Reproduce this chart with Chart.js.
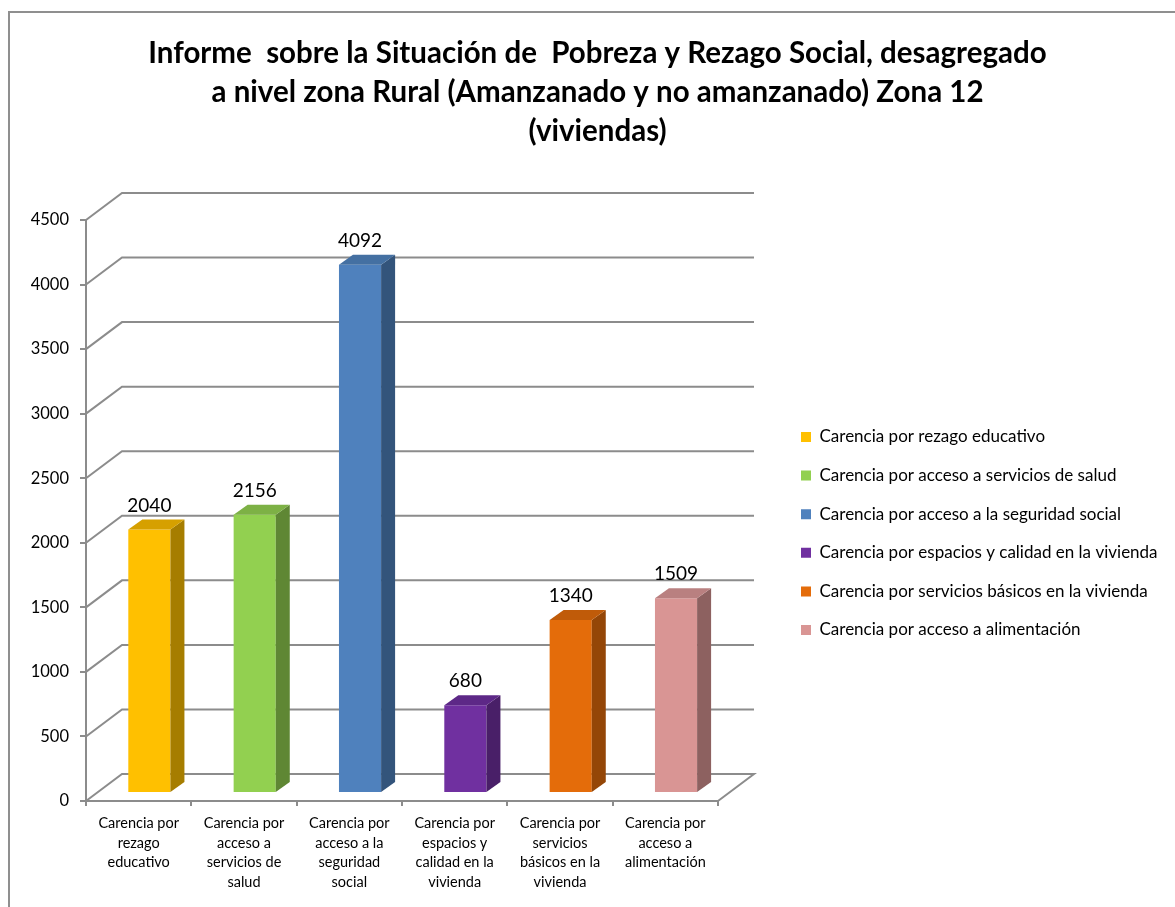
<!DOCTYPE html>
<html>
<head>
<meta charset="utf-8">
<script src="https://cdn.jsdelivr.net/npm/chart.js@4.4.1/dist/chart.umd.min.js"></script>
<style>
html,body{margin:0;padding:0;background:#fff;}
#wrap{width:1175px;height:907px;}
</style>
</head>
<body>
<div id="wrap"><canvas id="c" width="1175" height="907"></canvas></div>
<script>
// ---------- data ----------
const titleLines = [
  'Informe  sobre la Situación de  Pobreza y Rezago Social, desagregado',
  'a nivel zona Rural (Amanzanado y no amanzanado) Zona 12',
  '(viviendas)'
];
const categories = [
  'Carencia por rezago educativo',
  'Carencia por acceso a servicios de salud',
  'Carencia por acceso a la seguridad social',
  'Carencia por espacios y calidad en la vivienda',
  'Carencia por servicios básicos en la vivienda',
  'Carencia por acceso a alimentación'
];
const tickLabels = [
  ['Carencia por', 'rezago', 'educativo'],
  ['Carencia por', 'acceso a', 'servicios de', 'salud'],
  ['Carencia por', 'acceso a la', 'seguridad', 'social'],
  ['Carencia por', 'espacios y', 'calidad en la', 'vivienda'],
  ['Carencia por', 'servicios', 'básicos en la', 'vivienda'],
  ['Carencia por', 'acceso a', 'alimentación']
];
const values = [2040, 2156, 4092, 680, 1340, 1509];
const yMin = 0, yMax = 4500, yStep = 500;

// ---------- styles ----------
const frontColors = ['#FFC000', '#92D050', '#4F81BD', '#7030A0', '#E46C0A', '#D99594'];
const sideColors  = ['#A67D00', '#5F8734', '#33547B', '#491F68', '#944607', '#8D6160'];
const topColors   = ['#D6A000', '#7DB145', '#4470A2', '#5D2887', '#C05B09', '#B98080'];
const GRID = '#8c8c8c';
const FONT = 'Lato';
const WALL = {dx: 36, dy: 27};
const BAR = {ox: 10.7, oy: -8, dx: 14, dy: 10};
const LEG_FONT = 17, LEG_PAD = 38.6 - 17;
const PLOT_LEFT = 86, PLOT_RIGHT = 718;

const mc = document.createElement('canvas').getContext('2d');
mc.font = LEG_FONT + 'px ' + FONT;
const legendTextW = Math.max(...categories.map(c => mc.measureText(c).width));
const legendW = LEG_PAD + 10 + LEG_FONT / 2 + legendTextW + 10;
const spacerW = Math.max(0, 1175 - PLOT_RIGHT - legendW);

const threeD = {
  id: 'threeD',
  beforeDraw(chart) {
    const ctx = chart.ctx;
    ctx.save();
    ctx.fillStyle = '#fff';
    ctx.fillRect(0, 0, chart.width, chart.height);
    ctx.strokeStyle = '#8f8f8f';
    ctx.lineWidth = 2;
    ctx.strokeRect(9, 12, chart.width + 40, chart.height + 40);
    ctx.restore();
  },
  afterLayout(chart) {
    const t = chart.titleBlock;
    if (t) { const d = 597.5 - (t.left + t.right) / 2; t.left += d; t.right += d; }
    const L = chart.legend;
    if (L && L.columnSizes && L.columnSizes.length) {
      const dx = (801 - LEG_PAD) - L.left; L.left += dx; L.right += dx;
      const colH = L.columnSizes[0].height;
      const cur = (L.top + LEG_PAD + L.bottom - colH) / 2;
      const dy = (437 - LEG_FONT / 2) - cur; L.top += dy; L.bottom += dy;
    }
  },
  beforeDatasetsDraw(chart) {
    const ctx = chart.ctx, ys = chart.scales.y, a = chart.chartArea;
    ctx.save();
    ctx.strokeStyle = GRID; ctx.lineWidth = 2; ctx.lineJoin = 'miter';
    ys.ticks.forEach(t => {
      const y = ys.getPixelForValue(t.value);
      ctx.beginPath();
      ctx.moveTo(a.left, y);
      ctx.lineTo(a.left + WALL.dx, y - WALL.dy);
      ctx.lineTo(a.right + WALL.dx, y - WALL.dy);
      if (t.value === yMin) ctx.lineTo(a.right, y);
      ctx.stroke();
    });
    ctx.restore();
    ctx.save();
    ctx.translate(BAR.ox, BAR.oy);
  },
  afterDatasetsDraw(chart) {
    const ctx = chart.ctx;
    ctx.restore();
    const meta = chart.getDatasetMeta(0);
    ctx.save();
    meta.data.forEach((el, i) => {
      const p = el.getProps(['x', 'y', 'base', 'width'], true);
      const l = p.x - p.width / 2 + BAR.ox, r = p.x + p.width / 2 + BAR.ox;
      const top = Math.min(p.y, p.base) + BAR.oy, bot = Math.max(p.y, p.base) + BAR.oy;
      ctx.fillStyle = sideColors[i];
      ctx.beginPath();
      ctx.moveTo(r, top); ctx.lineTo(r + BAR.dx, top - BAR.dy);
      ctx.lineTo(r + BAR.dx, bot - BAR.dy); ctx.lineTo(r, bot);
      ctx.closePath(); ctx.fill();
      ctx.fillStyle = topColors[i];
      ctx.beginPath();
      ctx.moveTo(l, top); ctx.lineTo(l + BAR.dx, top - BAR.dy);
      ctx.lineTo(r + BAR.dx, top - BAR.dy); ctx.lineTo(r, top);
      ctx.closePath(); ctx.fill();
      ctx.fillStyle = '#000';
      ctx.font = '19px ' + FONT;
      ctx.textAlign = 'center';
      ctx.textBaseline = 'alphabetic';
      ctx.fillText(String(values[i]), (l + r) / 2, top - BAR.dy - 8);
    });
    ctx.restore();
  }
};

new Chart(document.getElementById('c'), {
  type: 'bar',
  data: {
    labels: tickLabels,
    datasets: [{
      label: 'Viviendas',
      data: values,
      backgroundColor: frontColors,
      borderWidth: 0,
      barPercentage: 0.4,
      categoryPercentage: 1.0,
      clip: false
    }]
  },
  options: {
    responsive: false,
    animation: false,
    devicePixelRatio: 1,
    layout: {padding: {left: 0, right: 0, top: 0, bottom: 0}},
    plugins: {
      tooltip: {enabled: false},
      title: {
        display: true,
        text: titleLines,
        color: '#000',
        font: {family: FONT, size: 29.5, weight: 'bold', lineHeight: 39 / 29.5},
        padding: {top: 33.5, bottom: 69.5}
      },
      legend: {
        display: true,
        position: 'right',
        fullSize: false,
        maxWidth: 600,
        onClick: null,
        labels: {
          boxWidth: 10, boxHeight: 10,
          padding: LEG_PAD,
          color: '#000',
          font: {family: FONT, size: LEG_FONT},
          generateLabels: () => categories.map((c, i) => ({
            text: c, fillStyle: frontColors[i], strokeStyle: frontColors[i],
            lineWidth: 0, hidden: false, index: i
          }))
        }
      }
    },
    scales: {
      x: {
        type: 'category',
        offset: true,
        grid: {display: true, drawOnChartArea: false, drawTicks: true, tickLength: 5, color: GRID, lineWidth: 2, offset: true},
        border: {display: true, color: GRID, width: 2},
        ticks: {color: '#000', font: {family: FONT, size: 14.5, lineHeight: 19.5 / 14.5}, padding: 8, maxRotation: 0, autoSkip: false},
        afterFit: s => { s.height = 106; }
      },
      y: {
        min: yMin, max: yMax,
        grid: {display: true, drawOnChartArea: false, drawTicks: true, tickLength: 6, color: GRID, lineWidth: 2},
        border: {display: true, color: GRID, width: 2},
        ticks: {stepSize: yStep, color: '#000', font: {family: FONT, size: 16.5}, padding: 11, callback: v => String(v)},
        afterFit: s => { s.width = PLOT_LEFT; }
      },
      spacer: {
        type: 'linear',
        position: 'right',
        display: true,
        grid: {display: false},
        border: {display: false},
        ticks: {display: false},
        afterFit: s => { s.width = spacerW; }
      }
    }
  },
  plugins: [threeD]
});
</script>
</body>
</html>
